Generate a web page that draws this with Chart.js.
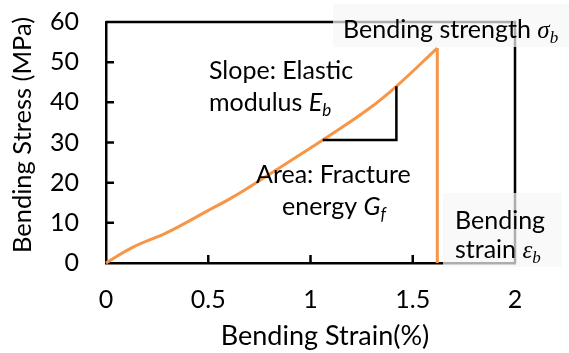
<!DOCTYPE html>
<html>
<head>
<meta charset="utf-8">
<script src="https://cdn.jsdelivr.net/npm/chart.js@4.4.1/dist/chart.umd.min.js"></script>
<style>
  html, body { margin: 0; padding: 0; background: #fff; }
  #wrap { width: 569px; height: 353px; position: relative; }
</style>
</head>
<body>
<div id="wrap"><canvas id="chart"></canvas></div>
<script>
// stress-strain curve of the bending test (last point = fracture drop)
const strainPts = [0, 0.13, 0.3, 0.49, 0.62, 0.79, 0.95, 1.06, 1.28, 1.42, 1.62, 1.62];
const stressPts = [0, 3.9, 7.6, 12.8, 16.4, 21.8, 27.0, 30.6, 38.2, 44.0, 53.5, 0];

// slope triangle (elastic modulus)
const slopeX = [1.06, 1.42, 1.42];
const slopeY = [30.6, 30.6, 44.0];

// closing frame, top and right side
const frameX = [0, 2, 2];
const frameY = [60, 60, 0];

const xTicks = [0, 0.5, 1, 1.5, 2];
const yTicks = [0, 10, 20, 30, 40, 50, 60];

const FONT = 'Lato';
const toXY = (xs, ys) => xs.map((x, i) => ({ x: x, y: ys[i] }));
const curve = toXY(strainPts, stressPts);
const n = curve.length;

// inward tick marks
const innerTicks = {
    id: 'innerTicks',
    beforeDatasetsDraw(chart) {
        const ctx = chart.ctx;
        const xs = chart.scales.x, ys = chart.scales.y;
        const area = chart.chartArea;
        ctx.save();
        ctx.strokeStyle = '#000';
        ctx.lineWidth = 2.5;
        ctx.beginPath();
        xTicks.slice(1, -1).forEach(v => {
            const px = xs.getPixelForValue(v);
            ctx.moveTo(px, area.bottom);
            ctx.lineTo(px, area.bottom - 8);
        });
        yTicks.slice(1, -1).forEach(v => {
            const py = ys.getPixelForValue(v);
            ctx.moveTo(area.left, py);
            ctx.lineTo(area.left + 8, py);
        });
        ctx.stroke();
        ctx.restore();
    }
};

// draws a line made of plain / italic / subscript parts
function richText(ctx, parts, x, y) {
    parts.forEach(p => {
        ctx.font = p.font;
        ctx.fillText(p.t, x, y + (p.dy || 0));
        x += ctx.measureText(p.t).width + (p.gap || 0);
    });
}

const notes = {
    id: 'notes',
    afterDatasetsDraw(chart) {
        const ctx = chart.ctx;
        ctx.save();
        // label boxes over the frame
        ctx.fillStyle = 'rgba(246,246,246,0.7)';
        ctx.fillRect(333, 4, 236, 43);
        ctx.fillRect(443, 193, 119, 74);

        ctx.fillStyle = '#000';
        ctx.textBaseline = 'alphabetic';
        ctx.textAlign = 'left';
        const reg = '25px ' + FONT;
        const ital = 'italic 25px ' + FONT;
        const sub = 'italic 17px ' + FONT;
        const greek = 'italic 25px "Liberation Serif"';
        const gsub = 'italic 17px "Liberation Serif"';

        richText(ctx, [{ t: 'Slope: Elastic', font: reg }], 209, 79);
        richText(ctx, [{ t: 'modulus ', font: reg }, { t: 'E', font: ital }, { t: 'b', font: sub, dy: 5 }], 209, 111);
        richText(ctx, [{ t: 'Area: Fracture', font: reg }], 256, 183);
        richText(ctx, [{ t: 'energy ', font: reg }, { t: 'G', font: ital }, { t: 'f', font: sub, dy: 5 }], 282, 215);
        richText(ctx, [{ t: 'Bending strength ', font: reg }, { t: '\u03c3', font: greek }, { t: 'b', font: gsub, dy: 5 }], 343, 38);
        richText(ctx, [{ t: 'Bending', font: reg }], 455, 229);
        richText(ctx, [{ t: 'strain ', font: reg }, { t: '\u03b5', font: greek }, { t: 'b', font: gsub, dy: 5 }], 455, 258);

        // axis titles
        ctx.textAlign = 'center';
        ctx.textBaseline = 'middle';
        ctx.font = '27px ' + FONT;
        ctx.fillText('Bending Strain(%)', 325, 336);
        ctx.translate(23, 135);
        ctx.rotate(-Math.PI / 2);
        ctx.font = '25.5px ' + FONT;
        ctx.fillText('Bending Stress (MPa)', 0, 0);
        ctx.restore();
    }
};

new Chart(document.getElementById('chart'), {
    type: 'line',
    data: {
        datasets: [
            {
                data: toXY(frameX, frameY),
                borderColor: '#000',
                borderWidth: 2.5,
                pointRadius: 0,
                clip: false
            },
            {
                data: toXY(slopeX, slopeY),
                borderColor: '#000',
                borderWidth: 2.5,
                pointRadius: 0
            },
            {
                data: curve.slice(0, n - 1),
                borderColor: '#f79646',
                borderWidth: 3,
                pointRadius: 0,
                tension: 0.4,
                clip: false
            },
            {
                data: curve.slice(n - 2),
                borderColor: '#f79646',
                borderWidth: 3,
                pointRadius: 0,
                clip: false
            }
        ]
    },
    options: {
        responsive: true,
        maintainAspectRatio: false,
        animation: false,
        events: [],
        layout: { padding: { left: 0, right: 54, top: 22, bottom: 0 } },
        plugins: { legend: { display: false }, tooltip: { enabled: false } },
        scales: {
            x: {
                type: 'linear',
                min: 0,
                max: 2,
                afterBuildTicks: s => { s.ticks = xTicks.map(v => ({ value: v })); },
                afterFit: s => { s.height = 90; s.paddingLeft = 0; s.paddingRight = 0; },
                grid: { display: true, drawOnChartArea: false, drawTicks: false },
                border: { color: '#000', width: 2.5 },
                ticks: { color: '#000', padding: 22, font: { family: FONT, size: 25 }, maxRotation: 0, callback: v => String(v) }
            },
            y: {
                min: 0,
                max: 60,
                afterBuildTicks: s => { s.ticks = yTicks.map(v => ({ value: v })); },
                afterFit: s => { s.width = 106; s.paddingTop = 0; s.paddingBottom = 0; },
                grid: { display: true, drawOnChartArea: false, drawTicks: false },
                border: { color: '#000', width: 2.5 },
                ticks: { color: '#000', padding: 27, font: { family: FONT, size: 25 } }
            }
        }
    },
    plugins: [innerTicks, notes]
});
</script>
</body>
</html>
